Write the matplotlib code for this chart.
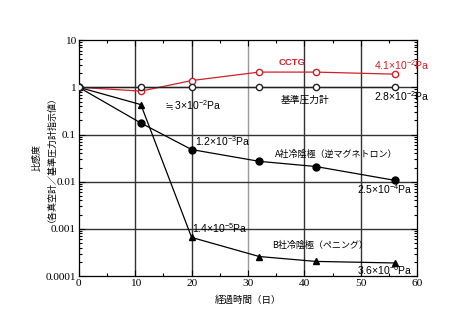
import matplotlib
matplotlib.use("Agg")
import matplotlib.pyplot as plt
from matplotlib.ticker import LogLocator, NullFormatter, FixedLocator

plt.rcParams['mathtext.fontset'] = 'custom'
plt.rcParams['mathtext.rm'] = 'Liberation Sans'
plt.rcParams['mathtext.it'] = 'Liberation Sans'
plt.rcParams['mathtext.bf'] = 'Liberation Sans:bold'
plt.rcParams['mathtext.sf'] = 'Liberation Sans'

SANS = ['Liberation Sans', 'Noto Sans CJK JP']
JP = ['Noto Sans CJK JP', 'Liberation Sans']
SERIF = ['Liberation Serif']

# elapsed days and relative sensitivity
days = [0, 11, 20, 32, 42, 56]
ref_gauge = [1.0, 1.0, 1.0, 1.0, 1.0, 1.0]
cctg = [1.0, 0.83, 1.39, 2.1, 2.1, 1.9]
cold_a = [1.0, 0.175, 0.048, 0.027, 0.021, 0.0107]
cold_b = [1.0, 0.43, 0.00066, 0.00026, 0.000205, 0.00019]

xticks = [0, 10, 20, 30, 40, 50, 60]
yticks = [0.0001, 0.001, 0.01, 0.1, 1, 10]
ytick_labels = ['0.0001', '0.001', '0.01', '0.1', '1', '10']

fig = plt.figure(figsize=(4.61, 3.26), dpi=100)
ax = fig.add_axes([0.171, 0.153, 0.734, 0.724])
ax.set_yscale('log')
ax.set_xlim(0, 60)
ax.set_ylim(1e-4, 10)

# grid lines
for x in xticks[1:-1]:
    ax.axvline(x, color='#9a9a9a' if x == 30 else '#333333', lw=1.0, zorder=1)
for y in yticks[1:-1]:
    ax.axhline(y, color='#333333', lw=1.0, zorder=1)

ax.plot(days, cctg, color='#d0202a', lw=0.9, marker='o', ms=4.5,
        mfc='white', mec='#d0202a', mew=1.0, zorder=3)
ax.plot(days, ref_gauge, color='#222222', lw=0.9, marker='o', ms=4.5,
        mfc='white', mec='#222222', mew=1.0, zorder=4)
ax.plot(days, cold_a, color='black', lw=0.9, marker='o', ms=5, zorder=3)
ax.plot(days, cold_b, color='black', lw=0.9, marker='^', ms=4, zorder=3)

ax.set_xticks(xticks)
ax.xaxis.set_minor_locator(FixedLocator([5, 15, 25, 35, 45, 55]))
ax.set_yticks(yticks)
ax.set_yticklabels(ytick_labels)
ax.yaxis.set_minor_locator(LogLocator(base=10, subs=range(2, 10)))
ax.yaxis.set_minor_formatter(NullFormatter())
ax.tick_params(which='both', direction='in', top=True, right=True, width=0.8)
ax.tick_params(which='major', length=4, labelsize=8.2, pad=2)
ax.tick_params(which='minor', length=2.5)
for lbl in ax.get_xticklabels() + ax.get_yticklabels():
    lbl.set_family(SERIF)
for s in ax.spines.values():
    s.set_linewidth(0.9)

ax.set_xlabel('経過時間（日）', family=JP, fontsize=6.8, labelpad=5)
fig.text(0.080, 0.518, '比感度', rotation=90, family=JP, fontsize=6.5,
         ha='center', va='center')
fig.text(0.102, 0.525, '（各真空計／基準圧力計指示値）', rotation=90, family=JP,
         fontsize=6.5, ha='center', va='center')

red = '#d0202a'
NUM = 7.5
LBL = 6.5
ax.text(37.8, 3.4, 'CCTG', color=red, family=SANS, fontsize=6.8,
        fontweight='bold', ha='center', va='center')
ax.text(57.3, 2.9, r'4.1×10$^{-2}$Pa', color=red, family=SANS, fontsize=NUM,
        ha='center', va='center')
ax.text(57.3, 0.64, r'2.8×10$^{-2}$Pa', color='black', family=SANS, fontsize=NUM,
        ha='center', va='center')
ax.text(40.1, 0.53, '基準圧力計', family=JP, fontsize=7, ha='center', va='center')
ax.text(20.2, 0.40, r'$\fallingdotseq$3×10$^{-2}$Pa', family=SANS, fontsize=NUM,
        ha='center', va='center')
ax.text(20.6, 0.071, r'1.2×10$^{-3}$Pa', family=SANS, fontsize=NUM,
        ha='left', va='center')
ax.text(45.6, 0.039, 'A社冷陰極（逆マグネトロン）', family=JP, fontsize=LBL,
        ha='center', va='center')
ax.text(54.3, 0.0071, r'2.5×10$^{-4}$Pa', family=SANS, fontsize=NUM,
        ha='center', va='center')
ax.text(20.1, 0.00105, r'1.4×10$^{-5}$Pa', family=SANS, fontsize=NUM,
        ha='left', va='center')
ax.text(42.8, 0.00044, 'B社冷陰極（ペニング）', family=JP, fontsize=LBL,
        ha='center', va='center')
ax.text(54.3, 0.000135, r'3.6×10$^{-6}$Pa', family=SANS, fontsize=NUM,
        ha='center', va='center')

fig.savefig('out.png', dpi=100)
